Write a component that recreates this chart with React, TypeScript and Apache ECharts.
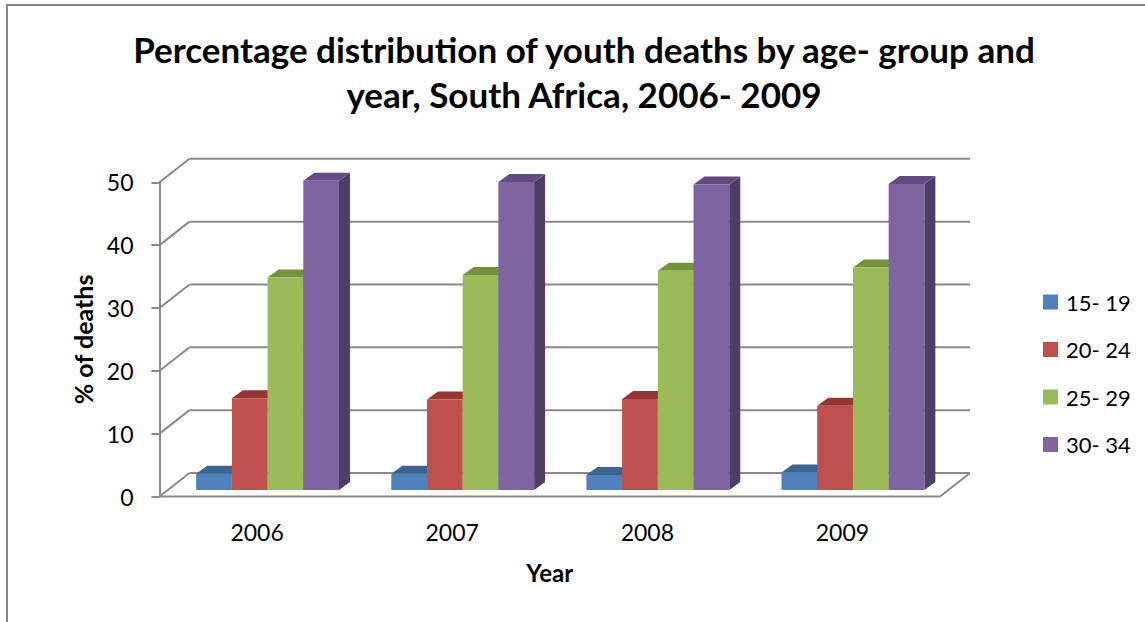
import React, { useEffect, useRef } from "react";
import * as echarts from "echarts";

const years = ["2006", "2007", "2008", "2009"];
const ageGroups = ["15- 19", "20- 24", "25- 29", "30- 34"];
const v1519 = [2.6, 2.6, 2.4, 2.8];
const v2024 = [14.6, 14.4, 14.5, 13.4];
const v2529 = [33.8, 34.2, 34.9, 35.4];
const v3034 = [49.2, 49.0, 48.6, 48.7];
const yTicks = [0, 10, 20, 30, 40, 50];

const frontColors = ["#4f81bd", "#c0504d", "#9bbb59", "#8064a2"];
const topColors = ["#3a6591", "#963634", "#76923c", "#634a80"];
const sideColors = ["#2f5179", "#7a2b29", "#5f7630", "#4f3d66"];

const FONT = "Lato, 'Open Sans', sans-serif";
const WALL_DX = 30;
const WALL_DY = -23.5;
const GRID = "#8a8a8a";

export default function App() {
  const ref = useRef<HTMLDivElement>(null);
  useEffect(() => {
    if (!ref.current) return;
    const chart = echarts.init(ref.current, undefined, { renderer: "svg" });
    const seriesValues = [v1519, v2024, v2529, v3034];

    const barSeries = seriesValues.map((vals, s) => ({
      type: "custom",
      name: ageGroups[s],
      z: 3,
      itemStyle: { color: frontColors[s] },
      data: vals.map((v, i) => [i, v]),
      renderItem: (params: any, api: any) => {
        const ci = api.value(0);
        const v = api.value(1);
        const base = api.coord([ci, 0]);
        const topP = api.coord([ci, v]);
        const band = api.size([1, 0])[0];
        const bw = band * 0.183;
        const DX = 10.5;
        const DY = -6.5;
        const dx = 11;
        const dy = -8;
        const left = base[0] + DX - (bw * 4) / 2 + s * bw;
        const right = left + bw;
        const y0 = base[1] + DY;
        const y1 = topP[1] + DY;
        return {
          type: "group",
          children: [
            {
              type: "polygon",
              shape: { points: [[right, y1], [right + dx, y1 + dy], [right + dx, y0 + dy], [right, y0]] },
              style: { fill: sideColors[s] },
            },
            {
              type: "polygon",
              shape: { points: [[left, y1], [left + dx, y1 + dy], [right + dx, y1 + dy], [right, y1]] },
              style: { fill: topColors[s] },
            },
            {
              type: "rect",
              shape: { x: left, y: y1, width: bw, height: y0 - y1 },
              style: { fill: frontColors[s] },
            },
          ],
        };
      },
    }));

    const frameSeries = {
      type: "custom",
      name: "frame",
      z: 1,
      silent: true,
      data: yTicks.map((t) => [0, t]),
      renderItem: (params: any, api: any) => {
        const cs = params.coordSys;
        const t = api.value(1);
        const y = api.coord([0, t])[1];
        const x = cs.x;
        const w = cs.width;
        const ls = { stroke: GRID, lineWidth: 2 };
        const children: any[] = [
          { type: "line", shape: { x1: x + WALL_DX, y1: y + WALL_DY, x2: x + w + WALL_DX, y2: y + WALL_DY }, style: ls },
          { type: "line", shape: { x1: x, y1: y, x2: x + WALL_DX, y2: y + WALL_DY }, style: ls },
        ];
        if (t === 0) {
          children.push({ type: "line", shape: { x1: x, y1: y, x2: x + w, y2: y }, style: ls });
          children.push({ type: "line", shape: { x1: x + w, y1: y, x2: x + w + WALL_DX, y2: y + WALL_DY }, style: ls });
        }
        return { type: "group", children };
      },
    };

    chart.setOption({
      animation: false,
      backgroundColor: "#ffffff",
      textStyle: { fontFamily: FONT },
      title: {
        text: "Percentage distribution of youth deaths by age- group and\nyear, South Africa, 2006- 2009",
        left: 579,
        top: 21,
        textAlign: "center",
        textStyle: { fontFamily: FONT, fontSize: 35, fontWeight: "bold", color: "#000", lineHeight: 45 },
      },
      graphic: [
        {
          type: "rect",
          shape: { x: 7, y: 5, width: 1300, height: 800 },
          style: { fill: "none", stroke: "#868686", lineWidth: 2 },
          silent: true,
        },
      ],
      legend: {
        orient: "vertical",
        left: 1038,
        top: 285,
        itemWidth: 15,
        itemHeight: 15,
        itemGap: 23.5,
        icon: "rect",
        data: ageGroups,
        textStyle: { fontFamily: FONT, fontSize: 22, lineHeight: 24, color: "#000", padding: [0, 0, 0, 3] },
      },
      grid: { left: 159.5, right: 205, top: 182.3, bottom: 125.5, containLabel: false },
      xAxis: {
        type: "category",
        data: years,
        axisLine: { show: false },
        axisTick: { show: false },
        axisLabel: { fontFamily: FONT, fontSize: 23, color: "#000", margin: 24 },
        name: "Year",
        nameLocation: "middle",
        nameGap: 64,
        nameTextStyle: { fontFamily: FONT, fontSize: 24, fontWeight: "bold", color: "#000" },
      },
      yAxis: {
        type: "value",
        min: 0,
        max: 50,
        interval: 10,
        axisLine: { show: true, lineStyle: { color: GRID, width: 2 } },
        axisTick: { show: true, length: 8, lineStyle: { color: GRID, width: 2 } },
        splitLine: { show: false },
        axisLabel: { fontFamily: FONT, fontSize: 23, color: "#000", margin: 26 },
        name: "% of deaths",
        nameLocation: "middle",
        nameGap: 64,
        nameRotate: 90,
        nameTextStyle: { fontFamily: FONT, fontSize: 25, fontWeight: "bold", color: "#000" },
      },
      series: [frameSeries, ...barSeries],
    });
    return () => chart.dispose();
  }, []);
  return (
    <div
      ref={ref}
      style={{ position: "fixed", left: 0, top: 0, width: 1145, height: 622, background: "#fff" }}
    />
  );
}
